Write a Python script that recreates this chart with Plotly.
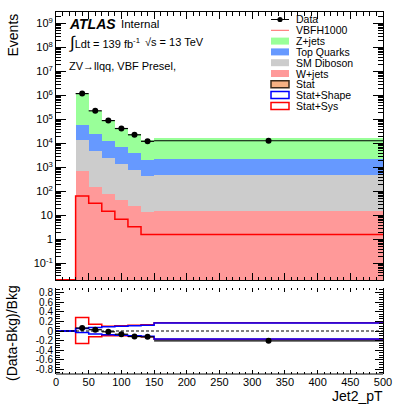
import plotly.graph_objects as go

# ---------------- data ----------------
bin_edges = [30, 50, 70, 90, 110, 130, 150, 500]
data_vals = [1.2e6, 2.3e5, 9.0e4, 4.2e4, 2.3e4, 1.23e4, 1.3e4]
zjets = [1.071e6, 1.99e5, 7.88e4, 3.76e4, 2.18e4, 1.20e4, 1.41e4]
top_quarks = [4.5e4, 2.0e4, 1.01e4, 6000, 3420, 1560, 1720]
sm_diboson = [13300, 4850, 2520, 1356, 755, 426, 465]
wjets = [710, 152, 78, 44, 25, 14, 15]
vbfh1000 = [65, 32, 15, 7, 3.4, 1.6, 1.6]

statshape_up = [0.05, 0.07, 0.09, 0.10, 0.11, 0.12, 0.165]
statshape_dn = [-0.03, -0.06, -0.08, -0.09, -0.10, -0.11, -0.165]
statsys_up = [0.28, 0.14, 0.10, 0.11, 0.12, 0.13, 0.17]
statsys_dn = [-0.26, -0.12, -0.10, -0.10, -0.11, -0.12, -0.17]

legend_labels = ["Data", "VBFH1000", "Z+jets", "Top Quarks", "SM Diboson",
                 "W+jets", "Stat", "Stat+Shape", "Stat+Sys"]

C_Z = "#99ff99"
C_TOP = "#6699ff"
C_DIB = "#cccccc"
C_W = "#ff9999"
FONT = "Liberation Sans"

# ---------------- geometry helpers ----------------
W, H = 396, 408
L, R, T, B = 56, 383, 12, 374


def px(x, y):
    return (x - L) / (R - L), (B - y) / (B - T)


top_dom = [(B - 280) / (B - T), 1.0]
bot_dom = [0.0, (B - 288) / (B - T)]

centers = [(a + b) / 2 for a, b in zip(bin_edges[:-1], bin_edges[1:])]
widths = [b - a for a, b in zip(bin_edges[:-1], bin_edges[1:])]
half = [w / 2 for w in widths]
bkg = [a + b + c + d for a, b, c, d in zip(zjets, top_quarks, sm_diboson, wjets)]
ratio = [d / b - 1 for d, b in zip(data_vals, bkg)]

fig = go.Figure()

# stacked backgrounds (bottom to top)
for vals, col, name in [(wjets, C_W, "W+jets"), (sm_diboson, C_DIB, "SM Diboson"),
                        (top_quarks, C_TOP, "Top Quarks"), (zjets, C_Z, "Z+jets")]:
    fig.add_trace(go.Bar(x=centers, y=vals, width=widths, marker=dict(color=col, line=dict(width=0)),
                         name=name, xaxis="x", yaxis="y", showlegend=False))

# signal step line
ylow = 10 ** -1.675
step_x = [0] + bin_edges
fig.add_trace(go.Scatter(x=step_x, y=[ylow] + vbfh1000 + [vbfh1000[-1]], mode="lines",
                         line=dict(color="#ff0000", width=1.5, shape="hv"),
                         xaxis="x", yaxis="y", showlegend=False))

# data
fig.add_trace(go.Scatter(x=centers, y=data_vals, mode="markers",
                         marker=dict(color="black", size=6),
                         error_x=dict(type="data", array=half, width=0, color="black", thickness=1.2),
                         xaxis="x", yaxis="y", showlegend=False))

# ratio bands
for up, dn, col in [(statsys_up, statsys_dn, "#ff0000"), (statshape_up, statshape_dn, "#0000ff")]:
    for arr in (up, dn):
        fig.add_trace(go.Scatter(x=step_x, y=[0] + arr + [arr[-1]], mode="lines",
                                 line=dict(color=col, width=1.5, shape="hv"),
                                 xaxis="x2", yaxis="y2", showlegend=False))

fig.add_trace(go.Scatter(x=[0, 500], y=[0, 0], mode="lines",
                         line=dict(color="black", width=1, dash="3px,2px"),
                         xaxis="x2", yaxis="y2", showlegend=False))

fig.add_trace(go.Scatter(x=centers, y=ratio, mode="markers",
                         marker=dict(color="black", size=6),
                         error_x=dict(type="data", array=half, width=0, color="black", thickness=1.2),
                         xaxis="x2", yaxis="y2", showlegend=False))

# ---------------- axes ----------------
log_ticks = [10.0 ** e for e in range(-1, 10)]
log_text = ["10<sup>-1</sup>", "1", "10"] + ["10<sup>%d</sup>" % e for e in range(2, 10)]
minor_log = [k * 10.0 ** e for e in range(-2, 10) for k in range(2, 10)]
ratio_ticks = [-0.8, -0.6, -0.4, -0.2, 0, 0.2, 0.4, 0.6, 0.8]
ratio_text = ["-0.8", "-0.6", "-0.4", "-0.2", "0", "0.2", "0.4", "0.6", "0.8"]


def common(size=11, showline=True):
    return dict(showline=showline, linecolor="black", linewidth=1, mirror="ticks", ticks="inside",
                tickcolor="black", tickwidth=1, showgrid=False, zeroline=False, automargin=False,
                tickfont=dict(family=FONT, size=size, color="black"))


fig.update_layout(
    width=W, height=H,
    margin=dict(l=L, r=W - R, t=T, b=H - B),
    paper_bgcolor="white", plot_bgcolor="white",
    barmode="stack", bargap=0, showlegend=False,
    font=dict(family=FONT, color="black"),
    xaxis=dict(domain=[0, 1], range=[0, 500], anchor="y", tickmode="linear", tick0=0, dtick=50,
               ticklen=7, showticklabels=False,
               minor=dict(dtick=10, ticklen=3.5, ticks="inside", tickcolor="black"), **common()),
    yaxis=dict(domain=top_dom, type="log", range=[-1.69, 9.48], anchor="x",
               tickmode="array", tickvals=log_ticks, ticktext=log_text, ticklen=10,
               minor=dict(tickmode="array", tickvals=minor_log, ticklen=5, ticks="inside", tickcolor="black"),
               **common(11)),
    xaxis2=dict(domain=[0, 1], range=[0, 500], anchor="y2", tickmode="linear", tick0=0, dtick=50,
                ticklen=4, minor=dict(dtick=10, ticklen=2, ticks="inside", tickcolor="black"),
                **common(11, showline=False)),
    yaxis2=dict(domain=bot_dom, range=[-0.89, 0.89], anchor="x2", tickmode="array",
                tickvals=ratio_ticks, ticktext=ratio_text, ticklen=8,
                minor=dict(dtick=0.05, tick0=0, ticklen=4, ticks="inside", tickcolor="black"),
                **common(10)),
)

ann = []
shapes = []

# bottom frame line of the ratio panel (top edge shows only ticks, as in the reference)
shapes.append(dict(type="line", xref="x2 domain", yref="y2 domain", x0=0, x1=1, y0=0, y1=0,
                   line=dict(color="black", width=1)))


def add_text(x, y, text, size=12, xanchor="left", yanchor="middle", angle=0):
    xp, yp = px(x, y)
    ann.append(dict(x=xp, y=yp, xref="paper", yref="paper", text=text, showarrow=False,
                    xanchor=xanchor, yanchor=yanchor, textangle=angle,
                    font=dict(family=FONT, size=size, color="black")))


add_text(67, 24, "<b><i>ATLAS</i></b>", 14)
add_text(119, 24, "Internal", 11.5)
add_text(67, 42, "<span style='font-size:17px'>∫</span>Ldt = 139 fb<sup>-1</sup>", 11)
add_text(143, 42, "√s = 13 TeV", 11)
add_text(67, 66, "ZV→llqq, VBF Presel,", 11)
add_text(12, 12, "Events", 14, xanchor="center", yanchor="top", angle=-90)
add_text(12, 333, "(Data-Bkg)/Bkg", 14, xanchor="center", yanchor="middle", angle=-90)
add_text(385, 396, "Jet2_pT", 14, xanchor="right", yanchor="middle")

# manual legend
leg_y0, leg_dy = 19.5, 10.8
sx0, sx1, tx = 271, 289, 294
fills = [None, None, C_Z, C_TOP, C_DIB, C_W, "#f4b183", "white", "white"]
lines = [None, None, None, None, None, None, "#3a2a1a", "#0000ff", "#ff0000"]
for i, lab in enumerate(legend_labels):
    yc = leg_y0 + i * leg_dy
    add_text(tx, yc, lab, 10.5)
    x0p, y0p = px(sx0, yc - 3.5)
    x1p, y1p = px(sx1, yc + 3.5)
    if i == 0:
        xa, ya = px(sx0, yc)
        xb, _ = px(sx1, yc)
        shapes.append(dict(type="line", xref="paper", yref="paper", x0=xa, x1=xb, y0=ya, y1=ya,
                           line=dict(color="black", width=1)))
        r = 2.6
        cx0, cy0 = px((sx0 + sx1) / 2 - r, yc - r)
        cx1, cy1 = px((sx0 + sx1) / 2 + r, yc + r)
        shapes.append(dict(type="circle", xref="paper", yref="paper", x0=cx0, x1=cx1, y0=cy1, y1=cy0,
                           fillcolor="black", line=dict(width=0)))
    elif i == 1:
        xa, ya = px(sx0, yc)
        xb, _ = px(sx1, yc)
        shapes.append(dict(type="line", xref="paper", yref="paper", x0=xa, x1=xb, y0=ya, y1=ya,
                           line=dict(color="#ff6666", width=1)))
    else:
        shapes.append(dict(type="rect", xref="paper", yref="paper", x0=x0p, x1=x1p, y0=y1p, y1=y0p,
                           fillcolor=fills[i],
                           line=dict(color=lines[i] if lines[i] else fills[i], width=1.5 if lines[i] else 0)))

fig.update_layout(annotations=ann, shapes=shapes)
fig.write_html("out.html", config={"displayModeBar": False},
               post_script="document.body.style.margin='0px';document.body.style.overflow='hidden';")
